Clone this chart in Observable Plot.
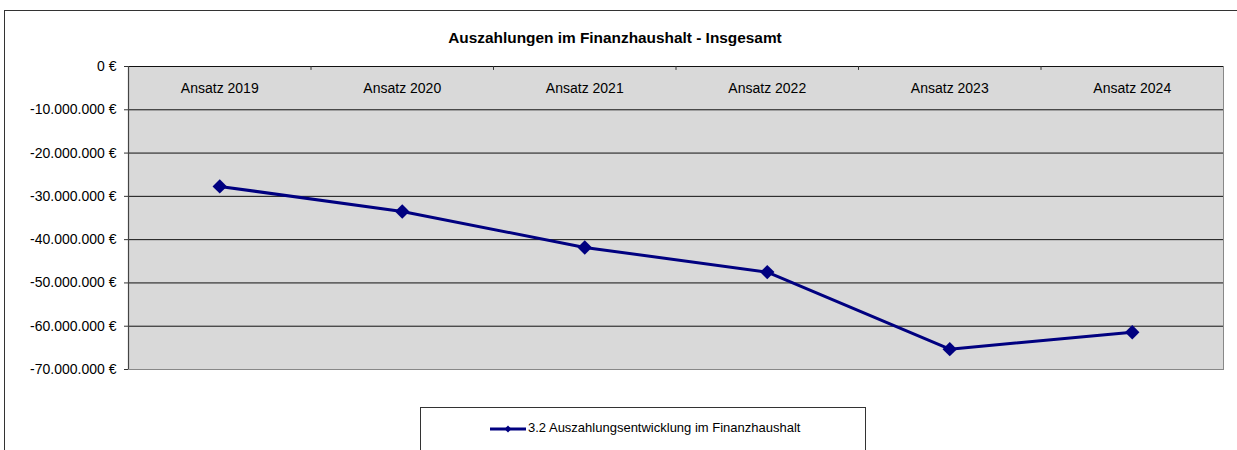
<!DOCTYPE html>
<html>
<head>
<meta charset="utf-8">
<script src="https://cdn.jsdelivr.net/npm/d3@7"></script>
<script src="https://cdn.jsdelivr.net/npm/@observablehq/plot@0.6"></script>
<style>
  html, body { margin: 0; padding: 0; background: #fff; }
  #chart { width: 1237px; height: 450px; overflow: hidden; }
</style>
</head>
<body>
<div id="chart"></div>
<script>
const title = "Auszahlungen im Finanzhaushalt - Insgesamt";
const seriesName = "3.2 Auszahlungsentwicklung im Finanzhaushalt";
const categories = ["Ansatz 2019", "Ansatz 2020", "Ansatz 2021", "Ansatz 2022", "Ansatz 2023", "Ansatz 2024"];
const values = [-27700000, -33500000, -41800000, -47500000, -65300000, -61400000];
const yTicks = [0, -10000000, -20000000, -30000000, -40000000, -50000000, -60000000, -70000000];

const data = categories.map((c, i) => ({ i, c, v: values[i] }));
const boundaries = categories.slice(1).map((c, i) => i + 0.5);

const locale = d3.formatLocale({ decimal: ",", thousands: ".", grouping: [3], currency: ["", " €"], minus: "-" });
const fmt = locale.format("$,.0f");

const FONT = "'Liberation Sans', Arial, sans-serif";
const NAVY = "#000080";
const W = 1237, H = 450;
const FS = 14;

const chart = Plot.plot({
  width: W,
  height: H,
  marginLeft: 128,
  marginRight: 14,
  marginTop: 66,
  marginBottom: 81,
  style: { fontFamily: FONT, fontSize: FS + "px", background: "#fff", color: "#000", overflow: "visible" },
  x: { type: "linear", domain: [-0.5, categories.length - 0.5], axis: null, label: null },
  y: { domain: [-70000000, 0], axis: null, label: null },
  marks: [
    Plot.frame({ fill: "#d9d9d9", stroke: "#888" }),
    Plot.ruleY(yTicks.filter(t => t > -70000000), { stroke: "#111", strokeWidth: 1 }),
    Plot.ruleX([-0.5], { stroke: "#444", strokeWidth: 1.2 }),
    Plot.ruleX(boundaries, { y1: 0, y2: -900000, stroke: "#333" }),
    Plot.axisY(yTicks, { label: null, tickSize: 4, tickPadding: 8, tickFormat: fmt, stroke: "#333", fill: "#000", fontSize: FS }),
    Plot.text(data, { x: "i", text: "c", frameAnchor: "top", dy: 17, fill: "#000", fontSize: FS }),
    Plot.line(data, { x: "i", y: "v", stroke: NAVY, strokeWidth: 3 }),
    Plot.dot(data, { x: "i", y: "v", symbol: "diamond2", r: 6.5, fill: NAVY, stroke: null })
  ]
});

const svg = d3.select(chart);
// outer chart frame
svg.insert("rect", ":first-child")
  .attr("x", 4.5).attr("y", 10.5).attr("width", W + 10).attr("height", H + 10)
  .attr("fill", "#fff").attr("stroke", "#333").attr("stroke-width", 1);
// title
svg.append("text")
  .attr("x", 615).attr("y", 39).attr("text-anchor", "middle").attr("dominant-baseline", "middle")
  .attr("font-family", FONT).attr("font-size", 15.4).attr("font-weight", "bold").attr("fill", "#000")
  .text(title);
// legend
const lg = svg.append("g").attr("text-anchor", "start");
lg.append("rect").attr("x", 420.5).attr("y", 407.5).attr("width", 445).attr("height", 50)
  .attr("fill", "#fff").attr("stroke", "#333");
lg.append("line").attr("x1", 490).attr("x2", 526).attr("y1", 429).attr("y2", 429)
  .attr("stroke", NAVY).attr("stroke-width", 3);
lg.append("path").attr("transform", "translate(508,429)")
  .attr("d", d3.symbol(d3.symbolDiamond2, 30)()).attr("fill", NAVY);
lg.append("text").attr("x", 528).attr("y", 429).attr("dominant-baseline", "middle")
  .attr("text-anchor", "start")
  .attr("font-family", FONT).attr("font-size", 13).attr("fill", "#000")
  .text(seriesName);

document.getElementById("chart").appendChild(chart);
</script>
</body>
</html>
